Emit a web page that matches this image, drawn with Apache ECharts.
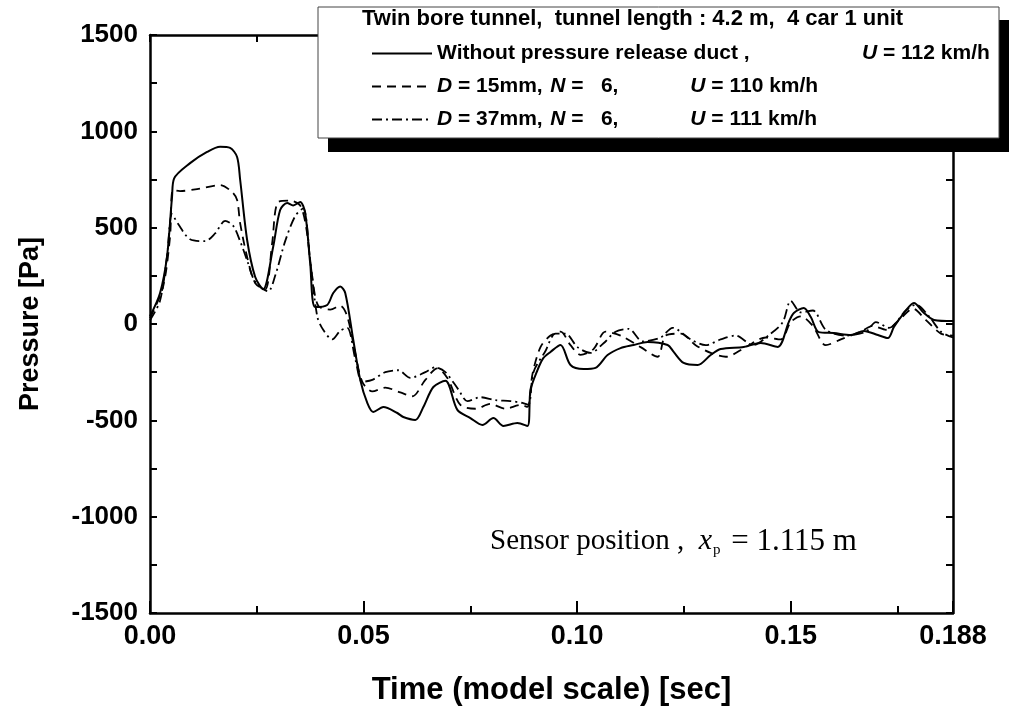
<!DOCTYPE html>
<html><head><meta charset="utf-8">
<script src="https://cdn.jsdelivr.net/npm/echarts@6/dist/echarts.min.js"></script>
<style>html,body{margin:0;padding:0;background:#fff}#c{width:1009px;height:707px}</style>
</head><body><div id="c"></div>
<script>
// Without pressure release duct, U = 112 km/h
const solidT = [0,0.00234,0.00398,0.00516,0.00563,0.00938,0.01336,0.01641,0.01875,0.02039,0.0211,0.02274,0.02461,0.02649,0.02883,0.03047,0.03211,0.03352,0.03516,0.03633,0.0375,0.03868,0.04149,0.0429,0.04454,0.04571,0.04759,0.04923,0.05087,0.05227,0.05462,0.0579,0.0593,0.06212,0.064,0.06634,0.06915,0.07196,0.07501,0.07782,0.0804,0.08275,0.08603,0.08837,0.08908,0.09072,0.09212,0.09376,0.09611,0.09845,0.1015,0.10431,0.10713,0.11017,0.11322,0.1165,0.12119,0.1226,0.12494,0.12822,0.13127,0.13361,0.139,0.14299,0.14697,0.14955,0.15073,0.15307,0.15471,0.15659,0.1601,0.16409,0.16713,0.17041,0.17276,0.17416,0.17651,0.17885,0.1812,0.18354,0.188];
const solidP = [40,160,350,660,755,835,893,920,914,867,750,436,245,180,400,592,628,615,633,576,316,88,99,161,195,161,-83,-291,-410,-457,-431,-462,-483,-498,-431,-327,-295,-446,-488,-524,-488,-529,-514,-529,-343,-239,-176,-145,-109,-213,-234,-228,-161,-125,-109,-93,-109,-145,-202,-213,-161,-130,-119,-99,-119,10,57,83,36,-42,-47,-57,-36,-57,-73,-16,57,109,57,21,15];
// D = 15mm, N = 6, U = 110 km/h
const d15T = [0,0.00305,0.00469,0.00539,0.00703,0.01102,0.01641,0.01922,0.02039,0.0211,0.02274,0.02461,0.02696,0.0286,0.03,0.03282,0.03516,0.03657,0.03797,0.03938,0.04219,0.04454,0.04618,0.04805,0.0497,0.05204,0.05509,0.0586,0.06141,0.06446,0.06728,0.06962,0.07267,0.07618,0.0797,0.08322,0.08673,0.08837,0.08954,0.09142,0.09376,0.09611,0.09845,0.1008,0.10384,0.10666,0.11017,0.11486,0.11885,0.12072,0.12424,0.12775,0.13127,0.13479,0.13947,0.14416,0.14768,0.15002,0.15237,0.15518,0.15823,0.16175,0.16643,0.16924,0.1723,0.17581,0.17862,0.18167,0.18518,0.188];
const d15P = [30,192,452,695,690,700,721,685,644,524,348,213,180,420,633,640,615,500,250,95,75,95,40,-150,-300,-350,-330,-355,-375,-290,-230,-280,-420,-440,-415,-440,-420,-430,-260,-120,-60,-40,-110,-160,-130,-40,-60,-120,-170,-60,-50,-110,-150,-170,-120,-70,-80,10,40,-10,-110,-80,-40,-10,-30,30,80,20,-50,-60];
// D = 37mm, N = 6, U = 111 km/h
const d37T = [0,0.00234,0.00398,0.00516,0.00656,0.00938,0.01289,0.01524,0.01758,0.01946,0.0211,0.02274,0.02461,0.02766,0.0293,0.03165,0.03399,0.03586,0.0375,0.03915,0.04055,0.04266,0.04454,0.04618,0.04805,0.0497,0.05204,0.05509,0.05813,0.06095,0.06446,0.0668,0.06915,0.0722,0.07431,0.07735,0.08087,0.08439,0.0872,0.0886,0.08978,0.09259,0.09493,0.09728,0.10009,0.10314,0.10619,0.109,0.11205,0.11533,0.11955,0.12236,0.12658,0.1301,0.13361,0.13713,0.14111,0.14533,0.14815,0.15002,0.15237,0.15518,0.15823,0.16292,0.1676,0.16995,0.173,0.17698,0.17933,0.18237,0.18518,0.188];
const d37P = [20,120,350,570,520,440,430,470,535,510,430,330,220,170,250,430,560,600,330,40,-30,-80,-35,-20,-180,-300,-290,-250,-240,-280,-250,-225,-250,-340,-400,-380,-395,-400,-410,-420,-250,-140,-50,-50,-120,-150,-100,-40,-25,-90,-70,-20,-80,-110,-80,-60,-110,-50,10,120,60,70,-30,-60,-40,10,-20,70,100,40,-40,-70];

const xTicksMajor = 0.05, xTicksMinor = 0.025, xMax = 0.188;
const yMin = -1500, yMax = 1500, yLabelStep = 500, yTickStep = 250;

const pairs = (t, p) => t.map((v, i) => [v, p[i]]);
const fontB = '"Liberation Sans", Arial, sans-serif';
const serif = '"Liberation Serif", "Times New Roman", serif';

const chart = echarts.init(document.getElementById('c'), null, {renderer: 'canvas'});
const axisLine = {show: true, onZero: false, lineStyle: {color: '#000', width: 2.5}};
const xLabelFmt = v => {
  if (Math.abs(v - xMax) < 1e-9) return '0.188';
  const k = Math.round(v / xTicksMinor);
  return (k % 2 === 0) ? v.toFixed(2) : '';
};
const yLabelFmt = v => (v % yLabelStep === 0 ? String(v) : '');
const lg = 21;
const rs = (extra) => Object.assign({fontFamily: fontB, fontWeight: 'bold', fontSize: lg, color: '#000'}, extra || {});

chart.setOption({
  animation: false,
  backgroundColor: '#fff',
  grid: {left: 150, right: 56, top: 35, bottom: 94, containLabel: false, outerBoundsMode: 'none'},
  xAxis: [
    {type: 'value', position: 'bottom', min: 0, max: xMax, interval: xTicksMinor,
     axisLine: axisLine, splitLine: {show: false},
     axisTick: {inside: true, length: 7, lineStyle: {color: '#000', width: 2}},
     axisLabel: {formatter: xLabelFmt, color: '#000', fontFamily: fontB, fontWeight: 'bold', fontSize: 27, margin: 10, showMaxLabel: true},
     name: 'Time (model scale) [sec]', nameLocation: 'middle', nameGap: 62,
     nameTextStyle: {color: '#000', fontFamily: fontB, fontWeight: 'bold', fontSize: 31}},
    {type: 'value', position: 'bottom', min: 0, max: xMax, interval: xTicksMajor,
     axisLine: {show: false, onZero: false}, splitLine: {show: false}, axisLabel: {show: false},
     axisTick: {inside: true, length: 12, lineStyle: {color: '#000', width: 2}}},
    {type: 'value', position: 'top', min: 0, max: xMax, interval: xTicksMinor,
     axisLine: axisLine, splitLine: {show: false}, axisLabel: {show: false},
     axisTick: {inside: true, length: 7, lineStyle: {color: '#000', width: 2}}}
  ],
  yAxis: [
    {type: 'value', position: 'left', min: yMin, max: yMax, interval: yTickStep,
     axisLine: axisLine, splitLine: {show: false},
     axisTick: {inside: true, length: 7, lineStyle: {color: '#000', width: 2}},
     axisLabel: {formatter: yLabelFmt, color: '#000', fontFamily: fontB, fontWeight: 'bold', fontSize: 26, margin: 12},
     name: 'Pressure [Pa]', nameLocation: 'middle', nameGap: 106, nameRotate: 90,
     nameTextStyle: {color: '#000', fontFamily: fontB, fontWeight: 'bold', fontSize: 27}},
    {type: 'value', position: 'right', min: yMin, max: yMax, interval: yTickStep,
     axisLine: axisLine, splitLine: {show: false}, axisLabel: {show: false},
     axisTick: {inside: true, length: 7, lineStyle: {color: '#000', width: 2}}}
  ],
  legend: {
    z: 20, orient: 'vertical', left: 366, top: 38, itemWidth: 60, itemHeight: 14, itemGap: 12,
    data: ['solid', 'd15', 'd37'],
    itemStyle: {color: 'transparent', borderColor: 'transparent', borderWidth: 0, opacity: 0},
    textStyle: {color: '#000', fontFamily: fontB, fontWeight: 'bold', fontSize: lg,
      rich: {
        t: rs(),
        w: rs({width: 425}),
        i: rs({fontStyle: 'italic'}),
        a: rs({width: 98}),
        b: rs({width: 125})
      }},
    formatter: name => {
      if (name === 'solid') return '{w|Without pressure release duct ,}{i|U}{t| = 112 km/h}';
      if (name === 'd15') return '{i|D}{a| = 15mm,}{i|N}{b| =   6,}{i|U}{t| = 110 km/h}';
      return '{i|D}{a| = 37mm,}{i|N}{b| =   6,}{i|U}{t| = 111 km/h}';
    }
  },
  graphic: [
    {type: 'rect', z: 10, shape: {x: 328, y: 20, width: 690, height: 132}, style: {fill: '#000'}},
    {type: 'rect', z: 11, shape: {x: 318, y: 7, width: 681, height: 131},
     style: {fill: '#fff', stroke: '#444', lineWidth: 1}},
    {type: 'text', z: 12, left: 362, top: 8,
     style: {text: 'Twin bore tunnel,  tunnel length : 4.2 m,  4 car 1 unit', fill: '#000', font: 'bold 22px ' + fontB}},
    {type: 'text', z: 5, left: 490, top: 526,
     style: {text: '{n|Sensor position ,  }{i|x}{s|p}{m| = 1.115 m}',
       rich: {
         n: {fontFamily: serif, fontSize: 29, fill: '#000'},
         i: {fontFamily: serif, fontStyle: 'italic', fontSize: 30, fill: '#000'},
         s: {fontFamily: serif, fontSize: 15, fill: '#000', padding: [18, 3, 0, 1]},
         m: {fontFamily: serif, fontSize: 31, fill: '#000'}
       }}}
  ],
  series: [
    {name: 'solid', type: 'line', xAxisIndex: 0, yAxisIndex: 0, data: pairs(solidT, solidP), symbol: 'none', smooth: 0.3,
     lineStyle: {color: '#000', width: 2, type: 'solid'}, itemStyle: {color: '#000'}, z: 3},
    {name: 'd15', type: 'line', xAxisIndex: 0, yAxisIndex: 0, data: pairs(d15T, d15P), symbol: 'none', smooth: 0.3,
     lineStyle: {color: '#000', width: 1.8, type: [9, 6]}, itemStyle: {color: '#000'}, z: 2},
    {name: 'd37', type: 'line', xAxisIndex: 0, yAxisIndex: 0, data: pairs(d37T, d37P), symbol: 'none', smooth: 0.3,
     lineStyle: {color: '#000', width: 1.8, type: [10, 4, 2, 4]}, itemStyle: {color: '#000'}, z: 2}
  ]
});
</script></body></html>
